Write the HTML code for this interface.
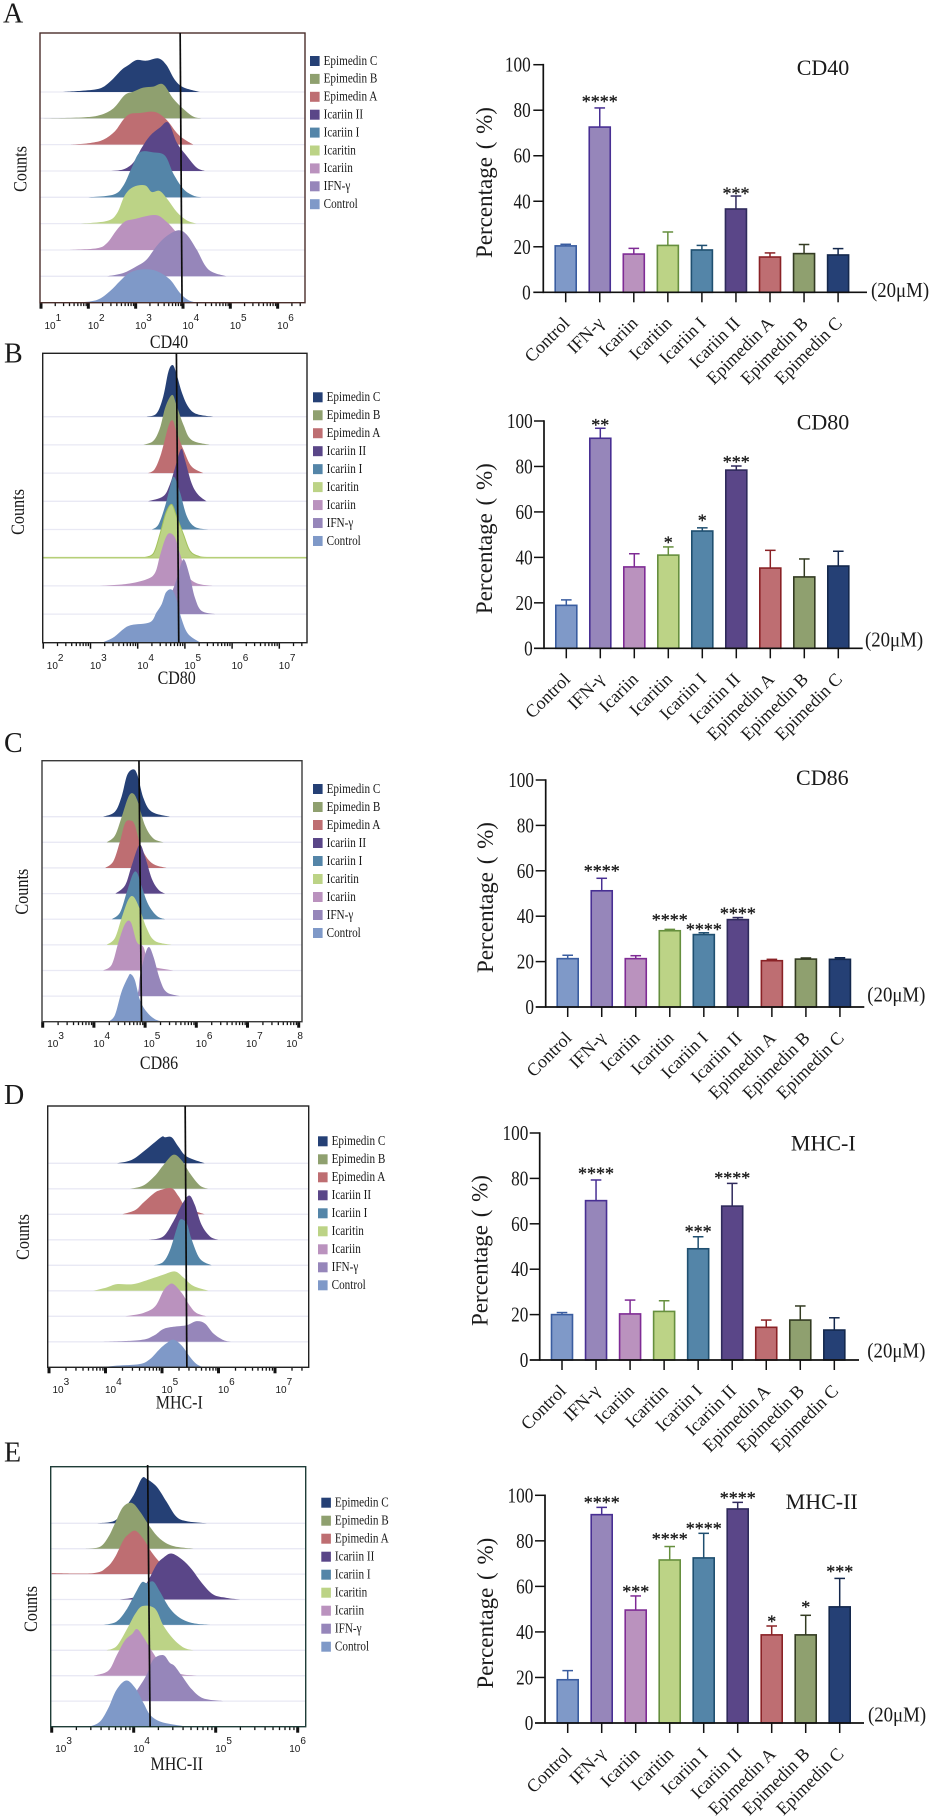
<!DOCTYPE html>
<html lang="en">
<head>
<meta charset="utf-8">
<title>Flow cytometry histograms and percentage bar charts</title>
<style>
html,body{margin:0;padding:0;background:#fff;}
svg{display:block;filter:blur(.35px);}
text{font-family:"Liberation Serif","Noto Serif CJK SC",serif;fill:#1a1a1a;}
.sans{font-family:"Liberation Sans","DejaVu Sans",sans-serif;}
</style>
</head>
<body>
<svg id="figure" xmlns="http://www.w3.org/2000/svg" width="931" height="1820" viewBox="0 0 931 1820">
  <rect x="0" y="0" width="931" height="1820" fill="#fff"/>
  <text x="3" y="22.7" font-size="28">A</text>
  <text x="4" y="362.7" font-size="28">B</text>
  <text x="4" y="752" font-size="28">C</text>
  <text x="4" y="1104" font-size="28">D</text>
  <text x="4" y="1461.7" font-size="28">E</text>
  <g id="flow-0"></g>
  <g id="flow-1"></g>
  <g id="flow-2"></g>
  <g id="flow-3"></g>
  <g id="flow-4"></g>
  <g id="bars-0"></g>
  <g id="bars-1"></g>
  <g id="bars-2"></g>
  <g id="bars-3"></g>
  <g id="bars-4"></g>
</svg>
<script>
/* ---------- shared data ---------- */
const categories = ["Control","IFN-γ","Icariin","Icaritin","Icariin I","Icariin II","Epimedin A","Epimedin B","Epimedin C"];
const yTicks = [0,20,40,60,80,100];

/* ---------- bar chart data (percent) ---------- */
const cd40Means = [20.4,72.6,16.8,20.6,18.6,36.6,15.5,17,16.4];
const cd40Errors = [0.7,8.4,2.5,5.9,2,5.7,1.8,4,2.8];
const cd40Stars = ["","****","","","","***","","",""];
const cd80Means = [18.9,92.4,35.8,41,51.6,78.4,35.3,31.4,36.2];
const cd80Errors = [2.4,4.4,5.8,3.6,1.4,1.8,7.8,7.9,6.5];
const cd80Stars = ["","**","","*","*","***","","",""];
const cd86Means = [21.3,51.2,21.3,33.6,31.9,38.5,20.4,21.1,21];
const cd86Errors = [1.5,5.5,1.3,0.6,0.8,0.9,0.6,0.5,0.7];
const cd86Stars = ["","****","","****","****","****","","",""];
const mhc1Means = [20,70.2,20.3,21.4,49,67.8,14.4,17.6,13.2];
const mhc1Errors = [0.9,9.1,6.1,4.7,5.3,10,3.2,6.2,5.4];
const mhc1Stars = ["","****","","","***","****","","",""];
const mhc2Means = [19,91.5,49.6,71.6,72.5,94,38.7,38.7,51];
const mhc2Errors = [4,3.2,6.2,5.9,10.8,2.9,3.9,8.6,12.5];
const mhc2Stars = ["","****","***","****","****","****","*","*","***"];

/* ---------- histogram data: one ridge per category, top ridge first.
   Each pair is [log10 intensity, counts]. Order: Epimedin C ... Control ---------- */
const ridgeOrder = ["Epimedin C","Epimedin B","Epimedin A","Icariin II","Icariin I","Icaritin","Icariin","IFN-γ","Control"];
const cd40Decades = [1,2,3,4,5,6];
const cd40Ridges = [
 [[1.47,0],[1.89,4],[2.25,11],[2.46,31],[2.70,66],[2.85,81],[3.02,96],[3.23,94],[3.48,101],[3.65,81],[3.83,36],[4.01,14],[4.36,0]],
 [[1.01,0],[1.89,3],[2.25,10],[2.53,30],[2.77,70],[2.95,80],[3.16,92],[3.37,95],[3.58,102],[3.79,60],[4.01,28],[4.22,5],[4.39,0]],
 [[1.61,0],[2.04,5],[2.32,15],[2.56,40],[2.74,75],[2.88,92],[3.09,95],[3.41,98],[3.65,75],[3.87,35],[4.04,15],[4.22,0]],
 [[2.46,0],[2.74,5],[2.95,25],[3.13,70],[3.30,105],[3.51,130],[3.69,145],[3.87,85],[4.08,45],[4.29,10],[4.46,0]],
 [[2.0,0],[2.53,8],[2.74,35],[2.92,90],[3.09,135],[3.37,135],[3.62,125],[3.80,70],[4.01,25],[4.22,5],[4.39,0]],
 [[1.82,0],[2.39,8],[2.60,30],[2.77,85],[2.95,110],[3.2,115],[3.34,95],[3.51,98],[3.69,70],[3.87,35],[4.08,10],[4.29,0]],
 [[1.61,0],[2.18,5],[2.39,20],[2.60,60],[2.77,85],[2.95,92],[3.41,105],[3.65,85],[3.87,50],[4.01,15],[4.22,0]],
 [[2.39,0],[2.74,10],[3.02,30],[3.23,50],[3.44,90],[3.65,120],[3.90,138],[4.08,125],[4.29,80],[4.54,20],[4.92,0]],
 [[1.75,0],[2.18,8],[2.46,35],[2.67,65],[2.88,90],[3.16,100],[3.44,95],[3.72,70],[3.93,30],[4.11,8],[4.29,0]]
];
const cd40Gate = [3.94,3.98];

const cd80Decades = [2,3,4,5,6,7];
const cd80Ridges = [
 [[4.19,0],[4.40,10],[4.54,60],[4.65,135],[4.74,155],[4.82,130],[4.93,75],[5.07,30],[5.25,8],[5.60,0]],
 [[4.12,0],[4.33,12],[4.47,50],[4.59,115],[4.73,150],[4.82,120],[4.97,60],[5.14,15],[5.53,0]],
 [[4.22,0],[4.36,12],[4.50,60],[4.65,140],[4.74,158],[4.82,125],[4.97,70],[5.14,20],[5.39,0]],
 [[4.22,0],[4.54,15],[4.68,50],[4.79,100],[4.92,157],[5.0,125],[5.14,55],[5.28,20],[5.46,0]],
 [[4.30,0],[4.44,15],[4.58,70],[4.68,125],[4.77,158],[4.90,110],[5.04,40],[5.21,8],[5.50,0]],
 [[4.12,0],[4.33,12],[4.47,70],[4.60,135],[4.72,160],[4.82,125],[4.97,70],[5.11,20],[5.32,3],[5.60,0]],
 [[3.2,0],[3.77,6],[4.19,20],[4.37,40],[4.47,90],[4.58,140],[4.67,158],[4.79,145],[4.90,95],[5.04,35],[5.25,8],[5.6,0]],
 [[4.58,20],[4.79,90],[4.93,155],[5.0,160],[5.11,110],[5.21,50],[5.35,10],[5.64,0]],
 [[3.27,0],[3.49,15],[3.70,40],[3.87,52],[4.26,60],[4.40,90],[4.51,115],[4.60,150],[4.72,158],[4.82,130],[4.93,70],[5.07,25],[5.32,0]]
];
const cd80Gate = [4.82,4.87];

const cd86Decades = [3,4,5,6,7,8];
const cd86Ridges = [
 [[4.18,0],[4.41,15],[4.54,60],[4.65,125],[4.77,142],[4.85,125],[4.97,55],[5.13,15],[5.49,0]],
 [[4.25,0],[4.41,20],[4.54,75],[4.67,135],[4.76,147],[4.85,125],[5.0,50],[5.16,12],[5.36,0]],
 [[4.22,0],[4.38,20],[4.51,80],[4.61,135],[4.72,142],[4.80,128],[4.93,60],[5.13,15],[5.42,0]],
 [[4.42,0],[4.61,25],[4.74,85],[4.89,146],[5.0,110],[5.13,45],[5.26,12],[5.39,0]],
 [[4.35,0],[4.51,20],[4.64,80],[4.76,135],[4.84,140],[4.93,100],[5.06,45],[5.23,10],[5.39,0]],
 [[4.25,0],[4.41,20],[4.54,80],[4.67,135],[4.77,145],[4.89,110],[5.03,50],[5.19,12],[5.52,0]],
 [[4.18,0],[4.35,18],[4.48,85],[4.61,140],[4.72,145],[4.84,85],[4.97,70],[5.06,18],[5.23,8],[5.55,0]],
 [[4.58,0],[4.84,5],[4.9,60],[5.0,125],[5.08,147],[5.17,115],[5.29,50],[5.42,12],[5.68,0]],
 [[4.28,0],[4.41,20],[4.54,90],[4.67,135],[4.72,143],[4.80,125],[4.90,65],[5.03,30],[5.19,8],[5.36,0]]
];
const cd86Gate = [4.88,4.93];

const mhc1Decades = [3,4,5,6,7];
const mhc1Ridges = [
 [[4.20,0],[4.46,10],[4.67,35],[4.85,60],[5.0,80],[5.05,78],[5.17,78],[5.29,50],[5.44,20],[5.76,0]],
 [[4.43,0],[4.67,10],[4.88,40],[5.02,70],[5.20,102],[5.35,85],[5.50,45],[5.67,10],[5.82,0]],
 [[4.29,0],[4.52,12],[4.67,35],[4.85,62],[4.96,72],[5.17,78],[5.29,55],[5.44,20],[5.76,0]],
 [[4.76,0],[5.02,10],[5.20,55],[5.35,105],[5.48,133],[5.58,105],[5.70,45],[5.85,10],[6.0,0]],
 [[4.85,0],[5.02,10],[5.14,45],[5.26,110],[5.33,138],[5.44,125],[5.52,80],[5.67,20],[5.88,0]],
 [[3.78,0],[4.02,10],[4.20,20],[4.49,20],[4.79,35],[5.02,48],[5.23,58],[5.38,40],[5.55,15],[5.82,0]],
 [[4.35,0],[4.67,10],[4.88,30],[5.02,75],[5.11,93],[5.20,97],[5.35,70],[5.50,30],[5.61,10],[5.79,0]],
 [[3.90,0],[4.61,5],[4.85,18],[5.02,38],[5.20,45],[5.44,50],[5.61,62],[5.76,55],[5.91,25],[6.09,5],[6.23,0]],
 [[3.90,0],[4.20,5],[4.61,10],[4.79,25],[4.96,55],[5.08,72],[5.20,83],[5.35,65],[5.50,30],[5.61,10],[5.73,0]]
];
const mhc1Gate = [5.41,5.44];

const mhc2Decades = [3,4,5,6];
const mhc2Ridges = [
 [[3.55,0],[3.77,8],[3.89,45],[4.0,85],[4.10,135],[4.16,133],[4.28,110],[4.40,65],[4.52,20],[4.65,6],[4.89,0]],
 [[3.41,0],[3.59,6],[3.69,35],[3.77,75],[3.87,125],[3.98,137],[4.08,110],[4.20,65],[4.32,30],[4.48,8],[4.73,0]],
 [[3.0,3],[3.51,3],[3.67,20],[3.77,50],[3.87,100],[3.93,118],[4.02,130],[4.12,105],[4.22,65],[4.32,35],[4.42,10],[4.57,0]],
 [[3.83,0],[4.04,10],[4.16,50],[4.28,105],[4.36,125],[4.46,138],[4.59,120],[4.71,90],[4.83,50],[4.97,15],[5.13,5],[5.30,0]],
 [[3.63,0],[3.79,10],[3.91,45],[4.02,95],[4.10,128],[4.16,125],[4.24,130],[4.32,100],[4.44,50],[4.57,20],[4.73,5],[4.95,0]],
 [[3.67,0],[3.79,12],[3.91,60],[4.02,110],[4.11,133],[4.26,125],[4.36,75],[4.48,35],[4.61,8],[4.73,0]],
 [[3.51,0],[3.69,15],[3.79,60],[3.89,105],[3.98,125],[4.04,140],[4.12,115],[4.22,75],[4.32,40],[4.44,20],[4.57,5],[4.77,0]],
 [[3.75,0],[3.96,10],[4.06,40],[4.16,80],[4.24,125],[4.36,138],[4.44,115],[4.50,105],[4.59,75],[4.71,35],[4.85,8],[5.09,0]],
 [[3.47,0],[3.59,15],[3.69,55],[3.79,110],[3.91,138],[4.02,115],[4.12,70],[4.20,35],[4.32,15],[4.48,6],[4.65,0]]
];
const mhc2Gate = [4.17,4.20];

/* ---------- styling and layout (not data) ---------- */
const fills = {"Control":"#7f99c8","IFN-γ":"#9686ba","Icariin":"#ba92be","Icaritin":"#bcd386","Icariin I":"#5485a8","Icariin II":"#5a4688","Epimedin A":"#be6e72","Epimedin B":"#8fa06f","Epimedin C":"#254075"};
const strokes = {"Control":"#3a5da0","IFN-γ":"#482f93","Icariin":"#7f2b95","Icaritin":"#668f3e","Icariin I":"#1f4f70","Icariin II":"#2f2a5c","Epimedin A":"#8a2226","Epimedin B":"#333b22","Epimedin C":"#14284d"};
const flowLayouts = [
 {ridges:cd40Ridges,decades:cd40Decades,gate:cd40Gate,title:"CD40",left:40,right:305,top:33,bottom:302.7,base0:92,gap:26.33,x0:41,dec:47.33,labelDx:[9,5,5,5,5,5],labelY:329,titleX:169,titleY:348,countsX:21,countsY:169,legendX:310,legendY:61,legendStep:17.9,frame:"#4a2e2a",majorW:3,gateTop:33},
 {ridges:cd80Ridges,decades:cd80Decades,gate:cd80Gate,title:"CD80",left:42.7,right:307,top:353.3,bottom:642.7,base0:416.7,gap:28.2,x0:43.3,dec:47.2,labelDx:[9,5,5,5,5,5],labelY:669,titleX:176.7,titleY:684,countsX:18.3,countsY:512,legendX:313,legendY:397.3,legendStep:17.96,frame:"#222",majorW:1.5,gateTop:353.3},
 {ridges:cd86Ridges,decades:cd86Decades,gate:cd86Gate,title:"CD86",left:42,right:302,top:760.7,bottom:1021.7,base0:816.7,gap:25.63,x0:42.7,dec:51.2,labelDx:[10,5,4,5,4,-7],labelY:1047,titleX:159,titleY:1069,countsX:22.3,countsY:891.7,legendX:313,legendY:789,legendStep:18,frame:"#3a3a3a",majorW:3,gateTop:760.7},
 {ridges:mhc1Ridges,decades:mhc1Decades,gate:mhc1Gate,title:"MHC-I",left:47.7,right:308.7,top:1106,bottom:1367.3,base0:1163.3,gap:25.5,x0:49,dec:56.5,labelDx:[9,5,5,5,6],labelY:1393,titleX:179.3,titleY:1408.7,countsX:23.3,countsY:1237,legendX:318,legendY:1141.3,legendStep:18,frame:"#222",majorW:3,gateTop:1106},
 {ridges:mhc2Ridges,decades:mhc2Decades,gate:mhc2Gate,title:"MHC-II",left:50.7,right:305.7,top:1466.7,bottom:1726.7,base0:1523.3,gap:25.4,x0:51.7,dec:82,labelDx:[9,5,5,-3],labelY:1752,titleX:176.7,titleY:1770,countsX:31.7,countsY:1609,legendX:321.3,legendY:1502.7,legendStep:18,frame:"#1f3d38",majorW:3,gateTop:1465}
];
const barLayouts = [
 {means:cd40Means,errors:cd40Errors,stars:cd40Stars,starGap:[8,8.7,8,8,8,5,8,8,8],title:"CD40",axisX:543.3,y100:64.7,y0:292.3,first:565.7,step:34.05,axisEnd:867,labelRight:530.7,yTitleX:485,unitX:871,unitY:297,titleX:823,titleY:75},
 {means:cd80Means,errors:cd80Errors,stars:cd80Stars,starGap:[8,5.7,8,6.7,10,6.7,8,8,8],title:"CD80",axisX:544,y100:421,y0:648.3,first:566.3,step:34,axisEnd:862.7,labelRight:532.7,yTitleX:485,unitX:865,unitY:646.7,titleX:823,titleY:429.3},
 {means:cd86Means,errors:cd86Errors,stars:cd86Stars,starGap:[8,10,8,11.7,6,6.7,8,8,8],title:"CD86",axisX:545.7,y100:780,y0:1007,first:567.7,step:34.03,axisEnd:864.3,labelRight:534,yTitleX:486,unitX:867.3,unitY:1001.7,titleX:822.3,titleY:785},
 {means:mhc1Means,errors:mhc1Errors,stars:mhc1Stars,starGap:[8,9,8,8,7.7,7.7,8,8,8],title:"MHC-I",axisX:539.7,y100:1133,y0:1360,first:562,step:34.04,axisEnd:859,labelRight:528.3,yTitleX:480.7,unitX:867.3,unitY:1357.3,titleX:823.3,titleY:1150.7},
 {means:mhc2Means,errors:mhc2Errors,stars:mhc2Stars,starGap:[8,7.3,6.7,10,7.3,6.7,7,10.7,9.3],title:"MHC-II",axisX:545,y100:1495.3,y0:1723,first:567.7,step:34,axisEnd:864,labelRight:533.3,yTitleX:486,unitX:868,unitY:1721.7,titleX:821.7,titleY:1509}
];

/* ---------- drawing helpers ---------- */
const NS = "http://www.w3.org/2000/svg";
function shape(parent, tag, attrs) {
  const el = document.createElementNS(NS, tag);
  for (const k in attrs) el.setAttribute(k, attrs[k]);
  parent.appendChild(el);
  return el;
}
function line(parent, x1, y1, x2, y2, stroke, width) {
  return shape(parent, "line", {x1, y1, x2, y2, stroke, "stroke-width": width});
}
function label(parent, str, transform, size, anchor) {
  const el = shape(parent, "text", {transform, "font-size": size, "text-anchor": anchor});
  el.textContent = str;
  return el;
}
function smoothPath(pts, base) {
  let d = "M" + pts[0][0].toFixed(2) + " " + base + " L" + pts[0][0].toFixed(2) + " " + pts[0][1].toFixed(2);
  for (let i = 0; i < pts.length - 1; i++) {
    const p0 = pts[Math.max(0, i - 1)], p1 = pts[i], p2 = pts[i + 1], p3 = pts[Math.min(pts.length - 1, i + 2)];
    const c1x = p1[0] + (p2[0] - p0[0]) / 6, c1y = Math.min(base, p1[1] + (p2[1] - p0[1]) / 6);
    const c2x = p2[0] - (p3[0] - p1[0]) / 6, c2y = Math.min(base, p2[1] - (p3[1] - p1[1]) / 6);
    d += " C" + c1x.toFixed(2) + " " + c1y.toFixed(2) + " " + c2x.toFixed(2) + " " + c2y.toFixed(2) + " " + p2[0].toFixed(2) + " " + p2[1].toFixed(2);
  }
  return d + " L" + pts[pts.length - 1][0].toFixed(2) + " " + base + " Z";
}

/* ---------- histogram panels ---------- */
flowLayouts.forEach(function (p, idx) {
  const g = document.getElementById("flow-" + idx);
  const xScale = function (v) { return p.x0 + (v - p.decades[0]) * p.dec; };
  const yScale = function (count, base) { return base - count / 3; };

  p.ridges.forEach(function (ridge, r) {
    const name = ridgeOrder[r];
    const base = p.base0 + r * p.gap;
    if (r < 8) {
      const baseline = line(g, p.left, base, p.right, base, "#e9e9f4", 1.3);
      
      
    }
    const area = shape(g, "path", {d: smoothPath(ridge.map(function (pt) { return [xScale(pt[0]), yScale(pt[1], base)]; }), base), fill: fills[name]});
    
    
    area.setAttribute('data-series', name);
    if (idx === 1 && name === "Icaritin") {
      area.setAttribute('stroke', '#a3c25c');
      area.setAttribute('stroke-width', '1');
      const greenLine = line(g, p.left, base, p.right, base, "#b6cf78", 1.6);
      
      
    }
  });

  /* x axis rug ticks */
  const firstDec = p.decades[0];
  for (let e = firstDec; xScale(e) < p.right; e++) {
    for (let k = 1; k < 10; k++) {
      const tx = xScale(e + Math.log10(k));
      if (tx > p.right - 1) continue;
      const major = k === 1;
      const tick = line(g, tx, p.bottom, tx, p.bottom + (major ? 6 : 3.4), "#111", major ? p.majorW : 1.3);
      
      
    }
  }

  const frame = shape(g, "rect", {x: p.left, y: p.top, width: p.right - p.left, height: p.bottom - p.top, fill: "none", stroke: p.frame, "stroke-width": 1.4});
  
  

  const gate = line(g, xScale(p.gate[0]), p.gateTop, xScale(p.gate[1]), p.bottom, "#0c0c0c", 1.7);
  
  

  p.decades.forEach(function (e, i) {
    const lx = xScale(e) + p.labelDx[i] - 5.5;
    const t = shape(g, "text", {x: lx, y: p.labelY, "font-size": 10, "class": "sans"});
    t.textContent = "10";
    
    
    const sup = shape(t, "tspan", {dy: -8, "font-size": 10});
    sup.textContent = String(e);
  });

  const xTitle = label(g, p.title, "translate(" + p.titleX + "," + p.titleY + ") scale(1,1.2)", 16, "middle");
  
  

  const counts = label(g, "Counts", "translate(" + (p.countsX + 5.5) + "," + p.countsY + ") scale(1.15,1) rotate(-90)", 16.2, "middle");
  
  

  ridgeOrder.forEach(function (name, i) {
    const ly = p.legendY + i * p.legendStep;
    const swatch = shape(g, "rect", {x: p.legendX, y: ly - 5, width: 9.6, height: 10, fill: fills[name]});
    
    
    const txt = label(g, name, "translate(" + (p.legendX + 13.6) + "," + (ly + 3.8) + ") scale(1,1.2)", 11.2, "start");
    
    
  });
});

/* ---------- bar charts ---------- */
barLayouts.forEach(function (p, idx) {
  const g = document.getElementById("bars-" + idx);
  const yScale = function (v) { return p.y0 - (v / 100) * (p.y0 - p.y100); };
  const xScale = function (i) { return p.first + i * p.step; };
  const barW = 21;

  categories.forEach(function (name, i) {
    const cx = xScale(i), top = yScale(p.means[i]), errTop = yScale(p.means[i] + p.errors[i]);
    const stem = line(g, cx, top, cx, errTop, strokes[name], 1.5);
    
    
    const cap = line(g, cx - 5.3, errTop, cx + 5.3, errTop, strokes[name], 1.5);
    
    
    const bar = shape(g, "rect", {x: cx - barW / 2, y: top, width: barW, height: p.y0 - top, fill: fills[name], stroke: strokes[name], "stroke-width": 1.6});
    
    
    bar.setAttribute('data-series', name);
    if (p.stars[i]) {
      const star = label(g, p.stars[i], "translate(" + cx + "," + (errTop - p.starGap[i] + 8.5) + ")", 18, "middle");
      star.setAttribute('stroke', '#1a1a1a');
      star.setAttribute('stroke-width', '0.3');
      
      
    }
    const tick = line(g, cx, p.y0, cx, p.y0 + 10, "#111", 1.5);
    
    
    const xl = label(g, name, "translate(" + (cx + 5) + "," + (p.y0 + 32) + ") rotate(-45)", 18, "end");
    
    
  });

  const yAxis = line(g, p.axisX, p.y100 - 0.8, p.axisX, p.y0 + 0.8, "#111", 1.7);
  
  
  const xAxis = line(g, p.axisX - 10, p.y0, p.axisEnd, p.y0, "#111", 1.7);
  
  

  yTicks.forEach(function (v) {
    const ty = yScale(v);
    if (v > 0) {
      const tick = line(g, p.axisX - 10, ty, p.axisX, ty, "#111", 1.5);
      
      
    }
    const yl = label(g, String(v), "translate(" + p.labelRight + "," + (ty + 7) + ") scale(1,1.2)", 17.2, "end");
    
    
  });

  const yTitle = label(g, "Percentage ( %)", "translate(" + (p.yTitleX + 7) + "," + ((p.y0 + p.y100) / 2 + 4) + ") rotate(-90)", 23, "middle");
  yTitle.setAttribute('word-spacing', '2');
  
  

  const title = label(g, p.title, "translate(" + p.titleX + "," + p.titleY + ")", 22, "middle");
  
  

  const unit = label(g, "(20μM)", "translate(" + p.unitX + "," + p.unitY + ") scale(1,1.1)", 18.8, "start");
  
  
});
</script>
</body>
</html>
